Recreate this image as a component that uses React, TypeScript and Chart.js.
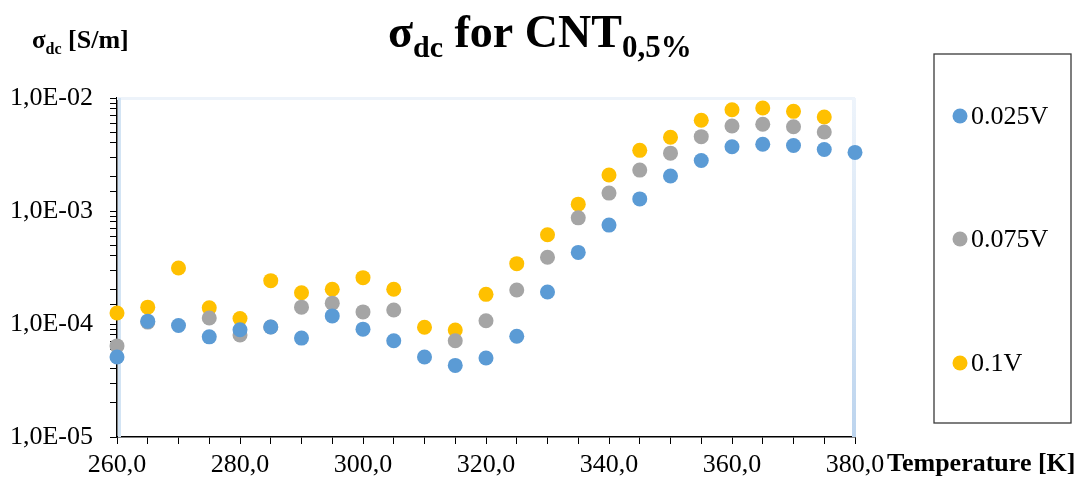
import React, { useEffect, useRef } from "react";
import { Chart, registerables } from "chart.js";

Chart.register(...registerables);

// ---------- data ----------
const temperatures = [
  260, 265, 270, 275, 280, 285, 290, 295, 300, 305, 310, 315, 320, 325, 330,
  335, 340, 345, 350, 355, 360, 365, 370, 375, 380,
];

const sigma0025V: (number | null)[] = [
  5.1e-5, 1.06e-4, 9.7e-5, 7.7e-5, 8.9e-5, 9.4e-5, 7.5e-5, 1.18e-4, 9.0e-5,
  7.1e-5, 5.1e-5, 4.3e-5, 5.0e-5, 7.8e-5, 1.92e-4, 4.3e-4, 7.5e-4, 1.28e-3,
  2.04e-3, 2.8e-3, 3.7e-3, 3.9e-3, 3.8e-3, 3.5e-3, 3.3e-3,
];

const sigma0075V: (number | null)[] = [
  6.4e-5, 1.04e-4, null, 1.13e-4, 8.0e-5, 9.4e-5, 1.41e-4, 1.53e-4, 1.28e-4,
  1.33e-4, null, 7.1e-5, 1.07e-4, 2.0e-4, 3.9e-4, 8.7e-4, 1.44e-3, 2.3e-3,
  3.25e-3, 4.55e-3, 5.65e-3, 5.85e-3, 5.57e-3, 5.0e-3, null,
];

const sigma01V: (number | null)[] = [
  1.25e-4, 1.41e-4, 3.13e-4, 1.39e-4, 1.12e-4, 2.42e-4, 1.89e-4, 2.03e-4,
  2.57e-4, 2.03e-4, 9.35e-5, 8.85e-5, 1.83e-4, 3.42e-4, 6.16e-4, 1.15e-3,
  2.08e-3, 3.44e-3, 4.5e-3, 6.35e-3, 7.88e-3, 8.16e-3, 7.62e-3, 6.79e-3, null,
];

const seriesLabels = ["0.025V", "0.075V", "0.1V"];
const seriesColors = ["#5B9BD5", "#A5A5A5", "#FFC000"];

const xMin = 260;
const xMax = 380;
const xStep = 5;
const xLabelEvery = 20;
const yMin = 1e-5;
const yMax = 1e-2;

const titleMain = "σ";
const titleSub = "dc";
const titleMid = " for CNT";
const titleSub2 = "0,5%";
const yTitleMain = "σ";
const yTitleSub = "dc";
const yTitleRest = " [S/m]";
const xTitle = "Temperature [K]";

const FONT = '"Liberation Serif", "Times New Roman", serif';

function toPoints(values: (number | null)[]) {
  const pts: { x: number; y: number }[] = [];
  values.forEach((v, i) => {
    if (v !== null) pts.push({ x: temperatures[i], y: v });
  });
  return pts;
}

function drawRich(
  ctx: CanvasRenderingContext2D,
  x: number,
  baseline: number,
  parts: { text: string; size: number; dy: number; bold: boolean }[]
) {
  ctx.textBaseline = "alphabetic";
  ctx.textAlign = "left";
  for (const p of parts) {
    ctx.font = `${p.bold ? "bold " : ""}${p.size}px ${FONT}`;
    ctx.fillText(p.text, x, baseline + p.dy);
    x += ctx.measureText(p.text).width;
  }
}

const decorPlugin = {
  id: "decor",
  beforeDatasetsDraw(chart: any) {
    const { ctx, chartArea: a } = chart;
    ctx.save();
    // light frame of plot area
    ctx.strokeStyle = "#edf3fa";
    ctx.lineWidth = 3;
    ctx.beginPath();
    ctx.moveTo(a.left, a.top + 0.5);
    ctx.lineTo(a.right, a.top + 0.5);
    ctx.stroke();
    const g = ctx.createLinearGradient(0, a.top, 0, a.bottom);
    g.addColorStop(0, "#eef4fb");
    g.addColorStop(1, "#bcd4ee");
    ctx.strokeStyle = g;
    ctx.lineWidth = 4;
    ctx.beginPath();
    ctx.moveTo(a.right - 1, a.top);
    ctx.lineTo(a.right - 1, a.bottom);
    ctx.stroke();
    ctx.strokeStyle = "#d3e4f4";
    ctx.lineWidth = 3;
    ctx.beginPath();
    ctx.moveTo(a.left + 2.5, a.top);
    ctx.lineTo(a.left + 2.5, a.bottom);
    ctx.stroke();
    ctx.restore();
  },
  afterDraw(chart: any) {
    const { ctx } = chart;
    ctx.save();
    ctx.fillStyle = "#000";
    // chart title
    drawRich(ctx, 388, 47, [
      { text: titleMain, size: 46, dy: 0, bold: true },
      { text: titleSub, size: 30, dy: 10, bold: true },
      { text: titleMid, size: 46, dy: 0, bold: true },
      { text: titleSub2, size: 31, dy: 10, bold: true },
    ]);
    // y axis title
    drawRich(ctx, 32, 48, [
      { text: yTitleMain, size: 25, dy: 0, bold: true },
      { text: yTitleSub, size: 16, dy: 6, bold: true },
      { text: yTitleRest, size: 26, dy: 0, bold: true },
    ]);
    // x axis title
    drawRich(ctx, 887, 471, [{ text: xTitle, size: 26, dy: 0, bold: true }]);

    // legend
    const box = { left: 934, top: 54, right: 1071, bottom: 423 };
    ctx.strokeStyle = "#3a3a3a";
    ctx.lineWidth = 1.3;
    ctx.strokeRect(box.left, box.top, box.right - box.left, box.bottom - box.top);
    const rowYs = [116, 239, 363];
    chart.data.datasets.forEach((ds: any, i: number) => {
      const y = rowYs[i];
      ctx.fillStyle = ds.backgroundColor;
      ctx.beginPath();
      ctx.arc(960, y, 7.5, 0, Math.PI * 2);
      ctx.fill();
      ctx.fillStyle = "#000";
      ctx.font = `26px ${FONT}`;
      ctx.textBaseline = "middle";
      ctx.textAlign = "left";
      ctx.fillText(ds.label, 971, y + 1);
    });
    ctx.restore();
  },
};

function formatSci(v: number) {
  const e = Math.round(Math.log10(v));
  const sign = e < 0 ? "-" : "+";
  const abs = Math.abs(e).toString().padStart(2, "0");
  return `1,0E${sign}${abs}`;
}

export default function App() {
  const canvasRef = useRef<HTMLCanvasElement | null>(null);

  useEffect(() => {
    if (!canvasRef.current) return;
    const datasets = [sigma0025V, sigma0075V, sigma01V].map((vals, i) => ({
      label: seriesLabels[i],
      data: toPoints(vals),
      backgroundColor: seriesColors[i],
      borderColor: seriesColors[i],
      pointRadius: 7.5,
      pointHoverRadius: 7.5,
      pointBorderWidth: 0,
      showLine: false,
      clip: false,
    }));

    const chart = new Chart(canvasRef.current, {
      type: "scatter",
      data: { datasets },
      plugins: [decorPlugin],
      options: {
        animation: false,
        responsive: true,
        maintainAspectRatio: false,
        events: [],
        layout: { padding: { top: 98, right: 230, bottom: 0, left: 0 } },
        plugins: {
          legend: { display: false },
          title: { display: false },
          tooltip: { enabled: false },
        },
        scales: {
          x: {
            type: "linear",
            min: xMin,
            max: xMax,
            afterFit: (s: any) => {
              s.height = 45;
            },
            afterBuildTicks: (s: any) => {
              const t = [];
              for (let v = xMin; v <= xMax; v += xStep) t.push({ value: v });
              s.ticks = t;
            },
            ticks: {
              autoSkip: false,
              maxRotation: 0,
              color: "#000",
              padding: 6,
              font: { family: FONT, size: 26 },
              callback: (v: any) =>
                (Number(v) - xMin) % xLabelEvery === 0
                  ? Number(v).toFixed(1).replace(".", ",")
                  : "",
            },
            grid: {
              drawOnChartArea: false,
              drawTicks: true,
              tickLength: 7,
              color: "#000",
              lineWidth: 1,
            },
            border: { display: true, color: "#000", width: 1.5 },
          },
          y: {
            type: "logarithmic",
            min: yMin,
            max: yMax,
            afterFit: (s: any) => {
              s.width = 117;
            },
            ticks: {
              autoSkip: false,
              color: "#000",
              padding: 17,
              font: { family: FONT, size: 26 },
              callback: (v: any) => {
                const n = Number(v);
                const l = Math.log10(n);
                return Math.abs(l - Math.round(l)) < 1e-9 ? formatSci(n) : "";
              },
            },
            grid: {
              drawOnChartArea: false,
              drawTicks: true,
              tickLength: 7,
              color: "#000",
              lineWidth: 1,
            },
            border: { display: true, color: "#000", width: 1.5 },
          },
        },
      } as any,
    });
    return () => chart.destroy();
  }, []);

  return (
    <div
      style={{
        position: "fixed",
        left: 0,
        top: 0,
        width: 1085,
        height: 482,
        background: "#fff",
      }}
    >
      <canvas ref={canvasRef} />
    </div>
  );
}
